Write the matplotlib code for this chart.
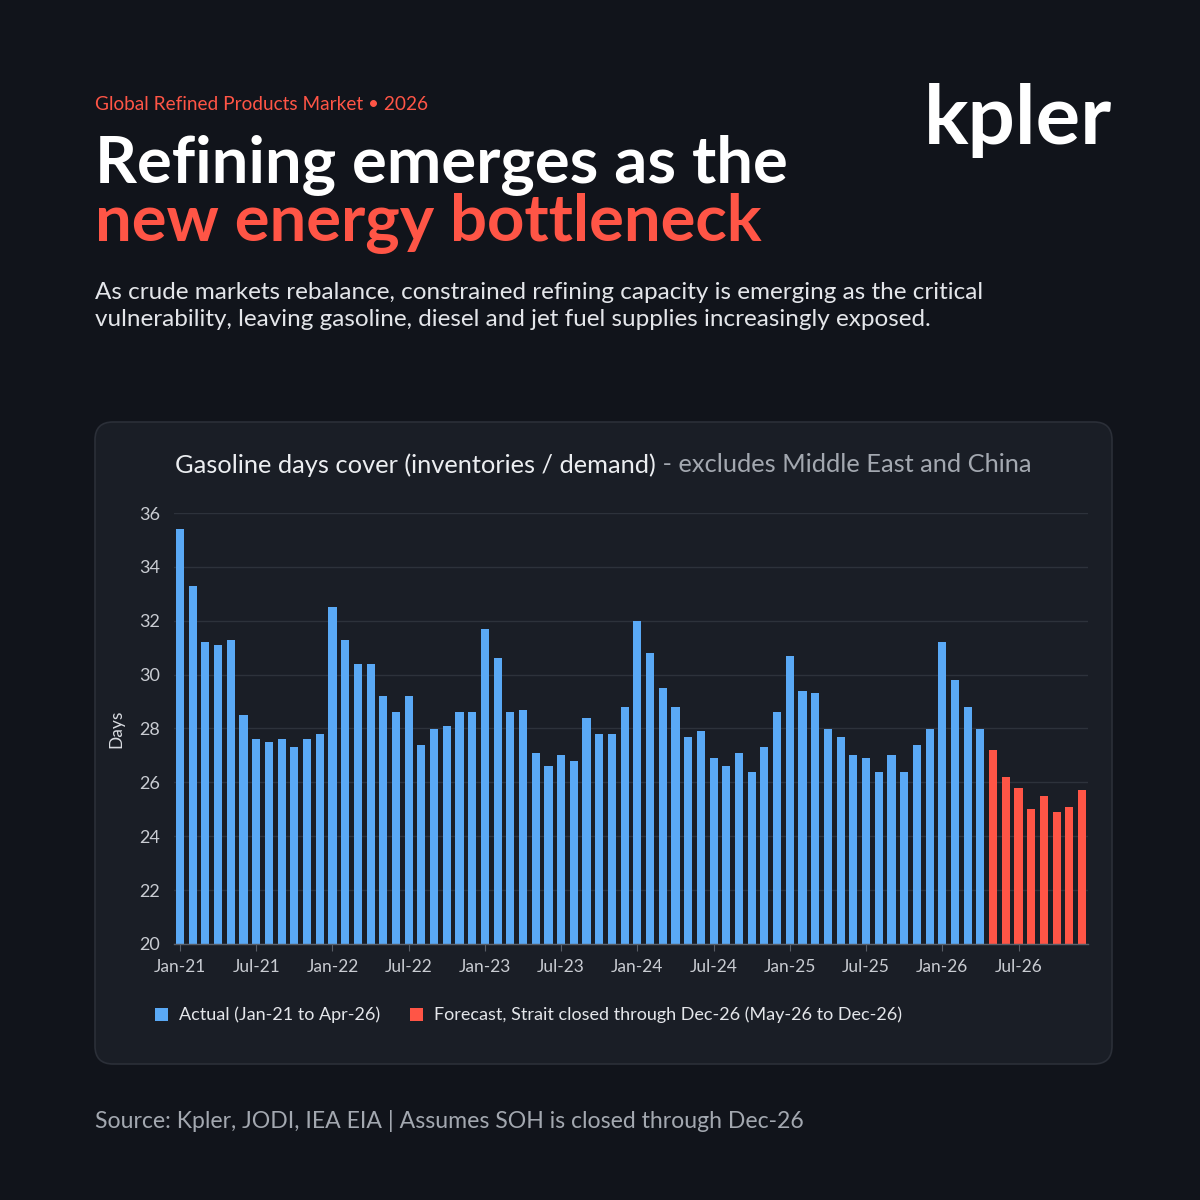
import numpy as np
import matplotlib.pyplot as plt
from matplotlib.patches import FancyBboxPatch

# monthly gasoline days cover, Jan-21 .. Apr-26 (actual) and May-26 .. Dec-26 (forecast)
actual = [35.4, 33.3, 31.2, 31.1, 31.3, 28.5, 27.6, 27.5, 27.6, 27.3, 27.6, 27.8,
          32.5, 31.3, 30.4, 30.4, 29.2, 28.6, 29.2, 27.4, 28.0, 28.1, 28.6, 28.6,
          31.7, 30.6, 28.6, 28.7, 27.1, 26.6, 27.0, 26.8, 28.4, 27.8, 27.8, 28.8,
          32.0, 30.8, 29.5, 28.8, 27.7, 27.9, 26.9, 26.6, 27.1, 26.4, 27.3, 28.6,
          30.7, 29.4, 29.3, 28.0, 27.7, 27.0, 26.9, 26.4, 27.0, 26.4, 27.4, 28.0,
          31.2, 29.8, 28.8, 28.0]
forecast = [27.2, 26.2, 25.8, 25.0, 25.5, 24.9, 25.1, 25.7]
tick_labels = ['Jan-21', 'Jul-21', 'Jan-22', 'Jul-22', 'Jan-23', 'Jul-23', 'Jan-24',
               'Jul-24', 'Jan-25', 'Jul-25', 'Jan-26', 'Jul-26']
y_ticks = [20, 22, 24, 26, 28, 30, 32, 34, 36]

BG = '#11141b'
PANEL = '#1a1e26'
BLUE = '#5aa9f5'
RED = '#ff5546'
WHITE = '#ffffff'

plt.rcParams['font.family'] = ['Lato', 'DejaVu Sans']

fig = plt.figure(figsize=(12, 12), dpi=100)
fig.patch.set_facecolor(BG)

# chart card
card = FancyBboxPatch((95 / 1200, 1 - 1064 / 1200), 1017 / 1200, 642 / 1200,
                      boxstyle='round,pad=0,rounding_size=0.015',
                      transform=fig.transFigure, facecolor=PANEL,
                      edgecolor='#2b2f38', linewidth=1.2, zorder=-1)
fig.patches.append(card)

# header
fig.text(95 / 1200, 1 - 104 / 1200, 'Global Refined Products Market \u2022 2026',
         color=RED, fontsize=13.7, va='center', ha='left')
fig.text(95 / 1200, 1 - 165 / 1200, 'Refining emerges as the', color=WHITE,
         fontsize=47, fontweight='bold', va='center', ha='left')
fig.text(95 / 1200, 1 - 224 / 1200, 'new energy bottleneck', color=RED,
         fontsize=47, fontweight='bold', va='center', ha='left')
fig.text(95 / 1200, 1 - 306 / 1200,
         'As crude markets rebalance, constrained refining capacity is emerging as the critical\n'
         'vulnerability, leaving gasoline, diesel and jet fuel supplies increasingly exposed.',
         color='#e4e6ea', fontsize=17.5, va='center', ha='left', linespacing=1.4)
fig.text(1112 / 1200, 1 - 120 / 1200, 'kpler', color=WHITE, fontsize=60,
         fontweight='bold', va='center', ha='right')

# chart title in two tones
fig.canvas.draw()
r = fig.canvas.get_renderer()
t1 = fig.text(0, 1 - 465 / 1200, 'Gasoline days cover (inventories / demand)',
              color='#eceef1', fontsize=18.3, va='center', ha='left')
t2 = fig.text(0, 1 - 465 / 1200, ' - excludes Middle East and China',
              color='#a3a8b0', fontsize=18.3, va='center', ha='left')
w1 = t1.get_window_extent(r).width / 1200
w2 = t2.get_window_extent(r).width / 1200
x0 = 603 / 1200 - (w1 + w2) / 2
t1.set_x(x0)
t2.set_x(x0 + w1)

ax = fig.add_axes([0.1447, 1 - 944 / 1200, 0.7623, (944 - 513) / 1200])
ax.set_facecolor(PANEL)

n_act = len(actual)
x_act = np.arange(n_act)
x_fc = np.arange(n_act, n_act + len(forecast))
ax.bar(x_act, np.array(actual) - 20, bottom=20, width=0.64, color=BLUE, zorder=3)
ax.bar(x_fc, np.array(forecast) - 20, bottom=20, width=0.64, color=RED, zorder=3)

ax.set_xlim(-0.5, n_act + len(forecast) - 0.5)
ax.set_ylim(20, 36)
ax.set_yticks(y_ticks)
ax.set_xticks(np.arange(0, 72, 6))
ax.set_xticklabels(tick_labels)
ax.grid(axis='y', color='#2d323b', linewidth=1, zorder=0)
for s in ['top', 'right', 'left']:
    ax.spines[s].set_visible(False)
ax.spines['bottom'].set_color('#5a5f68')
ax.spines['bottom'].set_linewidth(1)
ax.spines['bottom'].set_zorder(4)
ax.tick_params(axis='y', length=0, pad=10, labelsize=13, labelcolor='#c9ccd2')
ax.tick_params(axis='x', length=5, color='#5a5f68', pad=6, labelsize=12.5,
               labelcolor='#c9ccd2')
ax.set_ylabel('Days', color='#d9dce1', fontsize=12.5, labelpad=10)

# legend
fig.patches.append(plt.Rectangle((155 / 1200, 1 - 1021 / 1200), 13 / 1200, 13 / 1200,
                                 transform=fig.transFigure, facecolor=BLUE))
fig.text(179 / 1200, 1 - 1015 / 1200, 'Actual (Jan-21 to Apr-26)', color='#e4e6ea',
         fontsize=13, va='center', ha='left')
fig.patches.append(plt.Rectangle((410 / 1200, 1 - 1021 / 1200), 13 / 1200, 13 / 1200,
                                 transform=fig.transFigure, facecolor=RED))
fig.text(434 / 1200, 1 - 1015 / 1200,
         'Forecast, Strait closed through Dec-26 (May-26 to Dec-26)', color='#e4e6ea',
         fontsize=13, va='center', ha='left')

fig.text(95 / 1200, 1 - 1121 / 1200,
         'Source: Kpler, JODI, IEA EIA | Assumes SOH is closed through Dec-26',
         color='#a3a8b0', fontsize=16.6, va='center', ha='left')

fig.savefig('out.png', dpi=100, facecolor=BG)
